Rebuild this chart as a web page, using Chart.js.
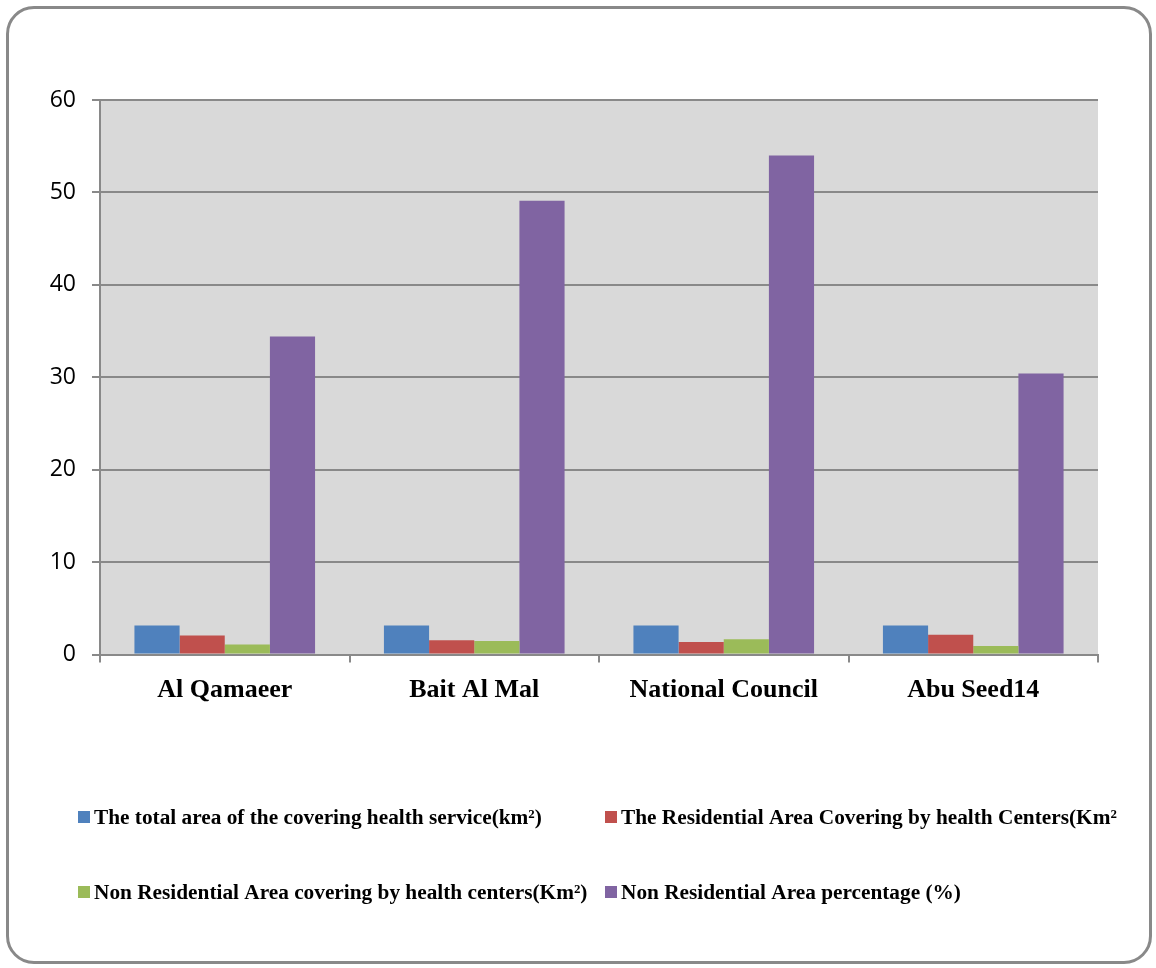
<!DOCTYPE html>
<html>
<head>
<meta charset="utf-8">
<script src="https://cdn.jsdelivr.net/npm/chart.js@4.4.0/dist/chart.umd.min.js"></script>
<style>
  html, body { margin: 0; padding: 0; background: #fff; }
  #wrap { position: relative; width: 1156px; height: 968px; overflow: hidden; }
  #frame { position: absolute; left: 6px; top: 6px; width: 1146px; height: 958px;
           border: 3px solid #898989; border-radius: 28px; box-sizing: border-box; }
  canvas { position: absolute; left: 0; top: 0; }
</style>
</head>
<body>
<div id="wrap">
  <div id="frame"></div>
  <canvas id="c" width="1156" height="968"></canvas>
</div>
<script>
const categories = ["Al Qamaeer", "Bait Al Mal", "National Council", "Abu Seed14"];
const seriesLabels = [
  "The total area of the covering health service(km\u00b2)",
  "The Residential Area Covering by health Centers(Km\u00b2",
  "Non Residential Area covering by health centers(Km\u00b2)",
  "Non Residential Area percentage (%)"
];
const totalArea = [3.14, 3.14, 3.14, 3.14];
const residentialArea = [2.05, 1.54, 1.35, 2.14];
const nonResidentialArea = [1.08, 1.46, 1.64, 0.92];
const nonResidentialPct = [34.4, 49.1, 54.0, 30.4];
const yTicks = [0, 10, 20, 30, 40, 50, 60];
const colors = ["#4f81bd", "#c0504d", "#9bbb59", "#8064a2"];

const seriesValues = [totalArea, residentialArea, nonResidentialArea, nonResidentialPct];

const plotBg = {
  id: 'plotBg',
  beforeDraw(chart) {
    const {ctx, chartArea: a} = chart;
    ctx.save();
    ctx.fillStyle = '#d9d9d9';
    ctx.fillRect(a.left, a.top, a.right - a.left, a.bottom - a.top);
    ctx.restore();
  }
};

const gridLegend = {
  id: 'gridLegend',
  afterDraw(chart) {
    const ctx = chart.ctx;
    const cols = [78, 605];
    const rows = [817, 892];
    ctx.save();
    ctx.font = 'bold 21.3px "Liberation Serif", "Times New Roman", serif';
    ctx.textBaseline = 'middle';
    ctx.textAlign = 'left';
    chart.data.datasets.forEach((ds, i) => {
      const x = cols[i % 2];
      const y = rows[Math.floor(i / 2)];
      ctx.fillStyle = ds.backgroundColor;
      ctx.fillRect(x, y - 6, 12, 12);
      ctx.fillStyle = '#000';
      ctx.fillText(ds.label, x + 16, y + 1);
    });
    ctx.restore();
  }
};

new Chart(document.getElementById('c'), {
  type: 'bar',
  data: {
    labels: categories,
    datasets: seriesLabels.map((label, i) => ({
      label,
      data: seriesValues[i],
      backgroundColor: colors[i],
      borderWidth: 0,
      barPercentage: 1.0,
      categoryPercentage: 0.724
    }))
  },
  options: {
    responsive: false,
    animation: false,
    devicePixelRatio: 1,
    layout: { padding: { left: 0, right: 58, top: 100, bottom: 253.5 } },
    plugins: {
      legend: { display: false },
      tooltip: { enabled: false }
    },
    scales: {
      x: {
        afterFit(s) { s.height = 60; },
        grid: { display: true, drawOnChartArea: false, drawTicks: true, tickLength: 8,
                color: '#898989', lineWidth: 2, offset: true },
        border: { display: true, color: '#898989', width: 2 },
        ticks: {
          color: '#000', padding: 12,
          font: { family: '"Liberation Serif", "Times New Roman", serif', size: 26, weight: 'bold' }
        }
      },
      y: {
        min: 0, max: 60,
        afterFit(s) { s.width = 100; },
        afterBuildTicks(s) { s.ticks = yTicks.map(v => ({ value: v })); },
        grid: { color: '#898989', lineWidth: 2, tickLength: 8, drawTicks: true },
        border: { display: true, color: '#898989', width: 2 },
        ticks: {
          color: '#000', padding: 16,
          font: { family: '"Open Sans", "Liberation Sans", sans-serif', size: 23 }
        }
      }
    }
  },
  plugins: [plotBg, gridLegend]
});
</script>
</body>
</html>
